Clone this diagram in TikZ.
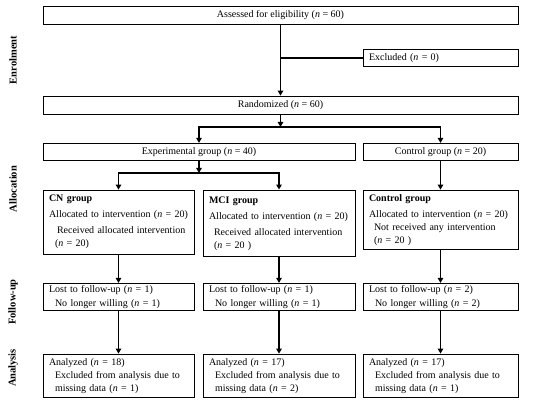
\documentclass[tikz,border=0pt]{standalone}
\usepackage{fontspec}
\setmainfont{Liberation Serif}
\usetikzlibrary{arrows.meta}

\tikzset{
  plain/.style={draw, line width=0.8pt, inner xsep=6pt, inner ysep=0pt,
    font=\fontsize{10}{13}\selectfont},
  cbox/.style={plain, align=center},
  lbox/.style={plain, align=left, text width=#1},
  side/.style={rotate=90, font=\fontsize{10.5}{12}\selectfont\bfseries},
  arr/.style={-{Triangle[length=5pt,width=5.5pt]}, line width=1.4pt},
  link/.style={line width=1.4pt, line cap=rect}
}

\begin{document}
\begin{tikzpicture}[x=1pt,y=-1pt]
\useasboundingbox (0,0) rectangle (550,406);

\node[side] (enrol) at (13,60) {Enrolment};
\node[side] (alloc) at (13,189) {Allocation};
\node[side] (follow) at (13,302) {Follow-up};
\node[side] (anal) at (13,368) {Analysis};

\node[cbox, minimum width=475pt, minimum height=18pt] (assess) at (280.5,15) {Assessed for eligibility (\textit{n} = 60)};
\node[lbox=143pt, minimum height=17.5pt] (excl) at (440.5,58) {Excluded (\textit{n} = 0)};
\node[cbox, minimum width=475pt, minimum height=18pt] (rand) at (280.5,105) {Randomized (\textit{n} = 60)};

\node[cbox, minimum width=312pt, minimum height=17.5pt] (exp) at (199,152) {Experimental group (\textit{n} = 40)};
\node[cbox, minimum width=155pt, minimum height=17.5pt] (ctrl) at (440.5,152) {Control group (\textit{n} = 20)};

\node[lbox=139pt, minimum height=64pt] (cn) at (118.5,222) {\textbf{CN group}\\[3pt]
  Allocated to intervention (\textit{n} = 20)\\[3pt]
  \hspace*{8pt}Received allocated intervention\\
  \hspace*{6pt}(\textit{n} = 20)};
\node[lbox=140pt, minimum height=66.7pt] (mci) at (279,223.3) {\textbf{MCI group}\\[3pt]
  Allocated to intervention (\textit{n} = 20)\\[3pt]
  \hspace*{5pt}Received allocated intervention\\
  \hspace*{5pt}(\textit{n} = 20 )};
\node[lbox=143pt, minimum height=59.3pt] (ctrlgrp) at (440.5,219.7) {\textbf{Control group}\\[3pt]
  Allocated to intervention (\textit{n} = 20)\\
  \hspace*{5pt}Not received any intervention\\
  \hspace*{5pt}(\textit{n} = 20 )};

\node[lbox=139pt, minimum height=27.4pt] (cnfu) at (118.5,297) {Lost to follow-up (\textit{n} = 1)\\[1pt]
  \hspace*{6pt}No longer willing (\textit{n} = 1)};
\node[lbox=140pt, minimum height=27.4pt] (mcifu) at (279,297) {Lost to follow-up (\textit{n} = 1)\\[1pt]
  \hspace*{6pt}No longer willing (\textit{n} = 1)};
\node[lbox=143pt, minimum height=27.4pt] (ctrlfu) at (440.5,297) {Lost to follow-up (\textit{n} = 2)\\[1pt]
  \hspace*{6pt}No longer willing (\textit{n} = 2)};

\node[lbox=139pt, minimum height=43.3pt] (cnan) at (118.5,375.7) {Analyzed (\textit{n} = 18)\\
  \hspace*{6pt}Excluded from analysis due to\\
  \hspace*{6pt}missing data (\textit{n} = 1)};
\node[lbox=140pt, minimum height=43.3pt] (mcian) at (279,375.7) {Analyzed (\textit{n} = 17)\\
  \hspace*{6pt}Excluded from analysis due to\\
  \hspace*{6pt}missing data (\textit{n} = 2)};
\node[lbox=143pt, minimum height=43.3pt] (ctrlan) at (440.5,375.7) {Analyzed (\textit{n} = 17)\\
  \hspace*{6pt}Excluded from analysis due to\\
  \hspace*{6pt}missing data (\textit{n} = 1)};

\coordinate (split) at (280.5,127);
\coordinate (split2) at (199,173);

\draw[arr] (assess) -- (rand);
\draw[link] (excl.west) -- (excl.west -| assess.south);

\draw[arr] (rand) -- (split);
\draw[link] (split -| exp) -- (split -| ctrl);
\draw[arr] (split -| exp) -- (exp);
\draw[arr] (split -| ctrl) -- (ctrl);

\draw[arr] (exp) -- (split2);
\draw[link] (split2 -| cn) -- (split2 -| mci);
\draw[arr] (split2 -| cn) -- (cn);
\draw[arr] (split2 -| mci) -- (mci);
\draw[arr] (ctrl) -- (ctrlgrp);

\draw[arr] (cn) -- (cnfu);
\draw[arr] (mci) -- (mcifu);
\draw[arr] (ctrlgrp) -- (ctrlfu);
\draw[arr] (cnfu) -- (cnan);
\draw[arr] (mcifu) -- (mcian);
\draw[arr] (ctrlfu) -- (ctrlan);
\end{tikzpicture}
\end{document}
